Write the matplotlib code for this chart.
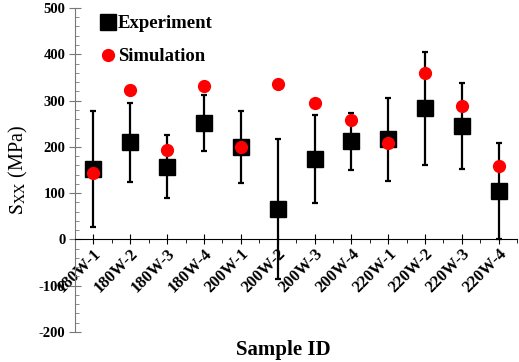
import matplotlib.pyplot as plt
from matplotlib.ticker import MultipleLocator

# %% Data
samples = ['180W-1', '180W-2', '180W-3', '180W-4', '200W-1', '200W-2',
           '200W-3', '200W-4', '220W-1', '220W-2', '220W-3', '220W-4']
experiment = [152, 210, 157, 252, 200, 66, 174, 212, 216, 283, 245, 105]
exp_err = [125, 85, 68, 60, 78, 151, 95, 62, 90, 122, 92, 104]
simulation = [143, 323, 193, 332, 200, 335, 295, 258, 209, 360, 289, 159]
y_ticks = [-200, -100, 0, 100, 200, 300, 400, 500]

plt.rcParams['font.family'] = ['Liberation Serif', 'DejaVu Serif']
plt.rcParams['mathtext.fontset'] = 'stix'

x = list(range(1, len(samples) + 1))

fig = plt.figure(figsize=(5.19, 3.62), dpi=100)
ax = fig.add_axes([0.1445, 0.083, 0.852, 0.895])

ax.errorbar(x, experiment, yerr=exp_err, fmt='none', ecolor='black',
            elinewidth=1.6, capsize=2.5, capthick=1.6, zorder=2)
ax.plot(x, experiment, 's', color='black', markersize=11, label='Experiment', zorder=3)
ax.plot(x, simulation, 'o', color='red', markersize=8.5, label='Simulation', zorder=4)

ax.set_xlim(0.5, 12.5)
ax.set_ylim(-200, 500)
ax.spines['top'].set_visible(False)
ax.spines['right'].set_visible(False)
ax.spines['bottom'].set_position(('data', 0))
ax.spines['left'].set_color('#777777')

ax.set_xticks(x)
ax.set_xticklabels(samples, rotation=45, ha='right', rotation_mode='anchor',
                   fontsize=12, fontweight='bold')
ax.set_yticks(y_ticks)
ax.set_yticklabels([str(v) for v in y_ticks], fontsize=10.5, fontweight='bold')
ax.xaxis.set_minor_locator(MultipleLocator(0.5))
ax.yaxis.set_minor_locator(MultipleLocator(20))
ax.tick_params(axis='x', which='major', direction='inout', length=7, pad=1)
ax.tick_params(axis='x', which='minor', direction='out', length=3)
ax.tick_params(axis='y', which='major', direction='inout', length=8, color='#777777', pad=3)
ax.tick_params(axis='y', which='minor', direction='in', length=3, color='#777777')

ax.set_ylabel(r'$\mathrm{S_{XX}}$ (MPa)', fontsize=14.5, labelpad=6)
fig.text(0.545, 0.005, 'Sample ID', ha='center', va='bottom', fontsize=15, fontweight='bold')

ax.legend(loc='upper left', bbox_to_anchor=(0.012, 1.03), frameon=False,
          prop={'size': 13.5, 'weight': 'bold'},
          handletextpad=-0.1, handlelength=1.2, labelspacing=0.85)

fig.savefig('out.png', dpi=100)
